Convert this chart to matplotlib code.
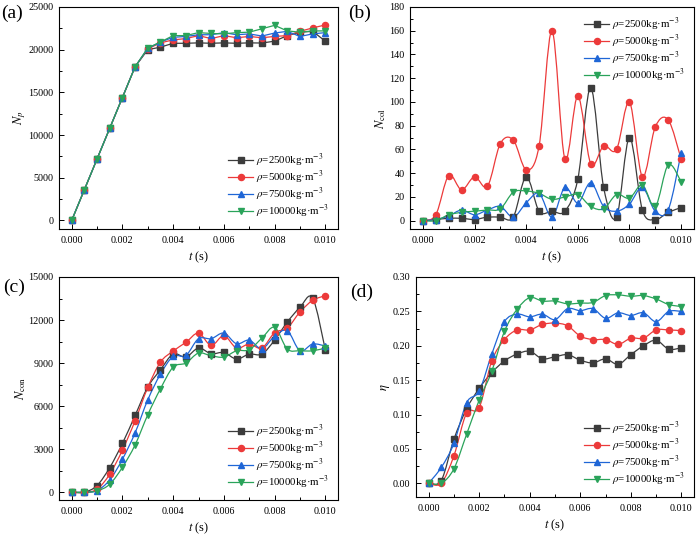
import numpy as np
import matplotlib
matplotlib.use("Agg")
import matplotlib.pyplot as plt
from matplotlib.path import Path
from matplotlib.patches import PathPatch
from matplotlib.lines import Line2D
from matplotlib.ticker import MultipleLocator, FormatStrFormatter

plt.rcParams['font.family'] = ['Liberation Serif', 'DejaVu Serif']
plt.rcParams['mathtext.fontset'] = 'stix'

# ---------------- data ----------------
t = [0.0, 0.0005, 0.001, 0.0015, 0.002, 0.0025, 0.003, 0.0035, 0.004, 0.0045, 0.005,
     0.0055, 0.006, 0.0065, 0.007, 0.0075, 0.008, 0.0085, 0.009, 0.0095, 0.010]

labels = [r'$\rho$=2500kg·m$^{-3}$', r'$\rho$=5000kg·m$^{-3}$',
          r'$\rho$=7500kg·m$^{-3}$', r'$\rho$=10000kg·m$^{-3}$']

# (a) N_p
np_2500 = [0, 3600, 7200, 10800, 14400, 18000, 20000, 20300, 20750, 20750, 20800,
           20750, 20800, 20750, 20800, 20780, 21000, 21650, 22050, 22150, 21000]
np_5000 = [0, 3600, 7200, 10800, 14400, 18000, 20100, 20800, 21150, 21300, 21650,
           21300, 21650, 21400, 21550, 21400, 21550, 21650, 22150, 22550, 22900]
np_7500 = [0, 3600, 7200, 10800, 14400, 18000, 20150, 20900, 21450, 21550, 21750,
           21750, 22000, 21750, 21850, 21600, 21950, 22150, 21550, 21850, 22000]
np_10000 = [0, 3600, 7200, 10800, 14400, 18000, 20200, 20900, 21650, 21650, 22000,
            21900, 21850, 22000, 22050, 22450, 22850, 22200, 22050, 22200, 22200]

# (b) N_col
col_2500 = [0, 1, 2, 2, 1, 3, 3, 3, 37, 8, 8, 8, 35, 112, 28, 3, 70, 9, 1, 7, 11]
col_5000 = [0, 5, 38, 26, 37, 29, 65, 68, 43, 63, 160, 52, 105, 48, 63, 60, 100, 37, 79, 85, 52]
col_7500 = [0, 1, 4, 9, 5, 9, 12, 3, 15, 23, 3, 28, 15, 32, 12, 8, 14, 28, 8, 9, 57]
col_10000 = [0, 0, 5, 7, 8, 9, 10, 24, 25, 23, 18, 20, 22, 12, 10, 22, 19, 30, 12, 47, 33]

# (c) N_con
con_2500 = [0, 0, 470, 1720, 3400, 5350, 7330, 8530, 9630, 9420, 10050, 9650, 9740,
            9280, 9630, 9630, 10600, 11860, 12880, 13530, 9930]
con_5000 = [0, 0, 210, 1260, 2930, 4980, 7300, 9070, 9840, 10440, 11090, 10230, 10910,
            10050, 10330, 10050, 11120, 11440, 12560, 13370, 13700]
con_7500 = [0, 0, 120, 860, 2300, 4140, 6440, 8230, 9470, 9530, 10700, 10700, 11090,
            10350, 10600, 10000, 10880, 11260, 9860, 10330, 10190]
con_10000 = [0, 0, 90, 560, 1740, 3300, 5400, 7210, 8720, 9000, 9700, 9510, 9420,
             9860, 9930, 10740, 11490, 9980, 9860, 9860, 10050]

# (d) eta
eta_2500 = [0.0, 0.004, 0.064, 0.108, 0.138, 0.161, 0.178, 0.188, 0.192, 0.181, 0.184,
            0.187, 0.179, 0.175, 0.181, 0.173, 0.187, 0.200, 0.208, 0.195, 0.197]
eta_5000 = [0.0, 0.0, 0.040, 0.102, 0.110, 0.178, 0.209, 0.223, 0.223, 0.231, 0.233,
            0.229, 0.214, 0.209, 0.209, 0.202, 0.211, 0.211, 0.223, 0.223, 0.222]
eta_7500 = [0.0, 0.023, 0.058, 0.117, 0.134, 0.188, 0.235, 0.246, 0.242, 0.246, 0.238,
            0.254, 0.251, 0.254, 0.240, 0.248, 0.244, 0.248, 0.235, 0.250, 0.250]
eta_10000 = [0.0, 0.0, 0.021, 0.071, 0.121, 0.163, 0.221, 0.253, 0.270, 0.265, 0.265,
             0.261, 0.262, 0.263, 0.273, 0.274, 0.272, 0.273, 0.268, 0.260, 0.257]

colors = ['#3c3c3c', '#ec3a3a', '#1f66d6', '#2aa35a']
markers = ['s', 'o', '^', 'v']


def smooth_path(x, y):
    x = np.asarray(x, float)
    y = np.asarray(y, float)
    P = np.column_stack([x, y])
    n = len(P)
    verts = [P[0]]
    codes = [Path.MOVETO]
    for i in range(n - 1):
        p0 = P[i - 1] if i > 0 else P[i]
        p1 = P[i]
        p2 = P[i + 1]
        p3 = P[i + 2] if i + 2 < n else P[i + 1]
        c1 = p1 + (p2 - p0) / 6.0
        c2 = p2 - (p3 - p1) / 6.0
        verts += [c1, c2, p2]
        codes += [Path.CURVE4] * 3
    return Path(np.array(verts), codes)


W, H = 697, 534
fig = plt.figure(figsize=(W / 100, H / 100), dpi=100)


def px_axes(l, r, top, bot):
    return fig.add_axes([l / W, 1 - bot / H, (r - l) / W, (bot - top) / H])


panels = [
    dict(box=(59, 338, 7, 229), series=[np_2500, np_5000, np_7500, np_10000],
         ylim=(-1000, 25000), ymaj=5000, ymin=2500, yfmt='%d', ylabel=r'$N_p$',
         smooth=False, legloc='lower right', tag='(a)', tagpos=(12, 13)),
    dict(box=(410, 694, 7, 229), series=[col_2500, col_5000, col_7500, col_10000],
         ylim=(-7, 180), ymaj=20, ymin=10, yfmt='%d', ylabel=r'$N_{\rm col}$',
         smooth=True, legloc='upper right', tag='(b)', tagpos=(360, 13)),
    dict(box=(59, 338, 277, 500), series=[con_2500, con_5000, con_7500, con_10000],
         ylim=(-540, 15000), ymaj=3000, ymin=1500, yfmt='%d', ylabel=r'$N_{\rm con}$',
         smooth=True, legloc='lower right', tag='(c)', tagpos=(14, 287)),
    dict(box=(416, 694, 277, 497), series=[eta_2500, eta_5000, eta_7500, eta_10000],
         ylim=(-0.02, 0.30), ymaj=0.05, ymin=0.025, yfmt='%.2f', ylabel=r'$\eta$',
         smooth=True, legloc='lower right', tag='(d)', tagpos=(362, 292)),
]

for p in panels:
    ax = px_axes(*p['box'])
    for ys, c, m in zip(p['series'], colors, markers):
        if p['smooth']:
            ax.add_patch(PathPatch(smooth_path(t, ys), fill=False, edgecolor=c,
                                   lw=0.9, transform=ax.transData))
            ax.plot(t, ys, ls='none', marker=m, color=c, ms=4.4, mec=c)
        else:
            ax.plot(t, ys, ls='-', lw=0.9, marker=m, color=c, ms=4.4, mec=c)
    ax.set_xlim(-0.0005, 0.0105)
    ax.set_ylim(*p['ylim'])
    ax.xaxis.set_major_locator(MultipleLocator(0.002))
    ax.xaxis.set_minor_locator(MultipleLocator(0.001))
    ax.xaxis.set_major_formatter(FormatStrFormatter('%.3f'))
    ax.yaxis.set_major_locator(MultipleLocator(p['ymaj']))
    ax.yaxis.set_minor_locator(MultipleLocator(p['ymin']))
    ax.yaxis.set_major_formatter(FormatStrFormatter(p['yfmt']))
    ax.tick_params(which='both', direction='in', labelsize=7.3, width=0.7)
    ax.tick_params(which='major', length=3.5)
    ax.tick_params(which='minor', length=2)
    ax.tick_params(axis='x', pad=5)
    ax.tick_params(axis='y', pad=4)
    for s in ax.spines.values():
        s.set_linewidth(0.8)
    ax.set_xlabel(r'$t$ (s)', fontsize=9, labelpad=3)
    ax.set_ylabel(p['ylabel'], fontsize=9, labelpad=0.5)
    handles = [Line2D([], [], color=c, marker=m, ms=4.4, lw=0.9, mec=c)
               for c, m in zip(colors, markers)]
    ax.legend(handles, labels, loc=p['legloc'], frameon=False, fontsize=7.8,
              handlelength=2.3, handletextpad=0.3, labelspacing=0.0,
              borderaxespad=0.4)
    fig.text(p['tagpos'][0] / W, 1 - p['tagpos'][1] / H, p['tag'], fontsize=14,
             ha='center', va='center')

fig.savefig('out.png', dpi=100)
